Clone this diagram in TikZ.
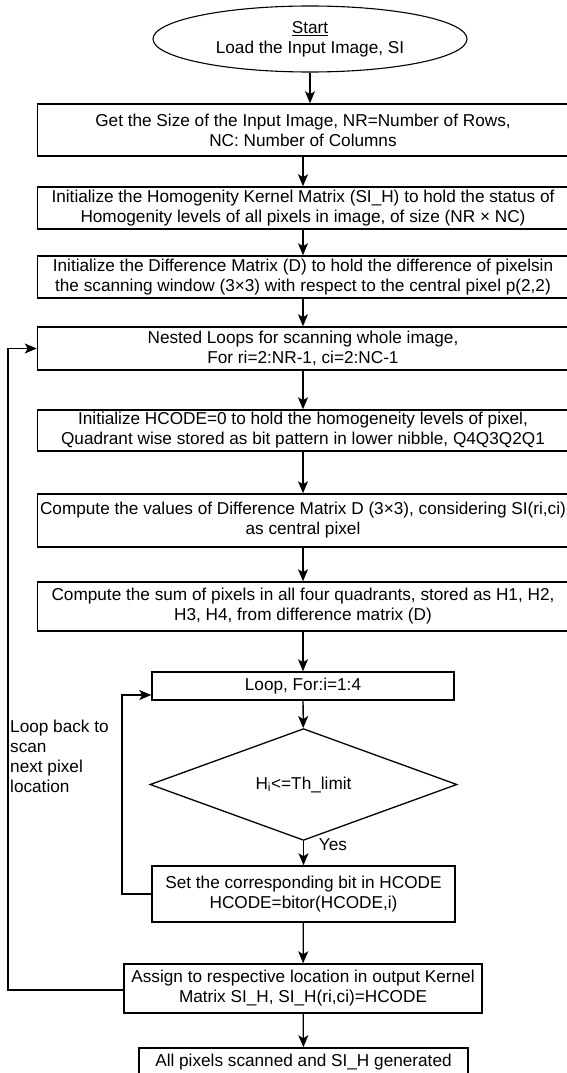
\documentclass[tikz,border=0pt]{standalone}
\usepackage{fontspec}
\setmainfont{Liberation Sans}
\usetikzlibrary{shapes.geometric,arrows.meta}
\begin{document}
\begin{tikzpicture}[x=1pt,y=-1pt,
  every node/.style={font=\fontsize{17.2}{20}\selectfont, inner sep=0pt, align=center},
  procbox/.style={draw, line width=1.5pt, rectangle},
  mainbox/.style={procbox, minimum width=531pt},
  conn/.style={line width=1.3pt, -{Stealth[length=12pt,width=10pt,inset=3pt]}},
  loopline/.style={line width=1.3pt, -{Stealth[length=12pt,width=10pt,inset=3pt]}}
]
\useasboundingbox (0,0) rectangle (567,1073);
\fill[white] (0,0) rectangle (567,1073);

\node[draw, line width=1.1pt, ellipse, minimum width=314pt, minimum height=66pt] (start) at (310,39) {\underline{Start}\\Load the Input Image, SI};

\node[mainbox, minimum height=52pt] (size) at (303,130) {Get the Size of the Input Image, NR=Number of Rows,\\NC: Number of Columns};

\node[mainbox, minimum height=42pt] (kernel) at (303,208) {Initialize the Homogenity Kernel Matrix (SI\_H) to hold the status of\\Homogenity levels of all pixels in image, of size (NR × NC)};

\node[mainbox, minimum height=42pt] (diff) at (303,277) {Initialize the Difference Matrix (D) to hold the difference of pixelsin\\the scanning window (3×3) with respect to the central pixel p(2,2)};

\node[mainbox, minimum height=43pt] (nested) at (303,348.5) {Nested Loops for scanning whole image,\\For ri=2:NR-1, ci=2:NC-1};

\node[mainbox, minimum height=41pt] (hcode) at (303,430.5) {Initialize HCODE=0 to hold the homogeneity levels of pixel,\\Quadrant wise stored as bit pattern in lower nibble, Q4Q3Q2Q1};

\node[mainbox, minimum height=53pt] (compd) at (303,520.5) {Compute the values of Difference Matrix D (3×3), considering SI(ri,ci)\\as central pixel};

\node[mainbox, minimum height=49pt] (sum) at (303,606.5) {Compute the sum of pixels in all four quadrants, stored as H1, H2,\\H3, H4, from difference matrix (D)};

\node[procbox, minimum width=302pt, minimum height=28pt] (loop) at (303,686) {Loop, For:i=1:4};

\node[draw, line width=1.3pt, diamond, minimum width=307pt, minimum height=85pt] (cond) at (303.5,784.5) {H\textsubscript{i}<=Th\_limit};

\node[procbox, minimum width=303pt, minimum height=56pt] (setbit) at (303.5,894) {Set the corresponding bit in HCODE\\HCODE=bitor(HCODE,i)};

\node[procbox, minimum width=358pt, minimum height=49pt] (assign) at (303,988.5) {Assign to respective location in output Kernel\\Matrix SI\_H, SI\_H(ri,ci)=HCODE};

\node[procbox, minimum width=329pt, minimum height=28pt] (final) at (303.5,1062) {All pixels scanned and SI\_H generated};

\node[anchor=west, align=left] (looptext) at (10,756) {Loop back to\\scan\\next pixel\\location};

\node (yes) at (333,845) {Yes};

\draw[conn] (start) -- (start |- size.north);
\draw[conn] (size) -- (kernel);
\draw[conn] (kernel) -- (diff);
\draw[conn] (diff) -- (nested);
\draw[conn] (nested) -- (hcode);
\draw[conn] (hcode) -- (compd);
\draw[conn] (compd) -- (sum);
\draw[conn] (sum) -- (loop);
\draw[conn] (loop) -- (cond);
\draw[conn] (cond) -- (setbit);
\draw[conn] (setbit) -- (assign);
\draw[conn] (assign) -- (final);

\coordinate (ia) at (122,894);
\coordinate (ib) at (122,695);
\draw[loopline] (setbit.west |- ia) -- (ia) -- (ib) -- (loop.west |- ib);

\coordinate (oa) at (8,990);
\coordinate (ob) at (8,348.5);
\draw[loopline] (assign.west |- oa) -- (oa) -- (ob) -- (nested.west);
\end{tikzpicture}
\end{document}
